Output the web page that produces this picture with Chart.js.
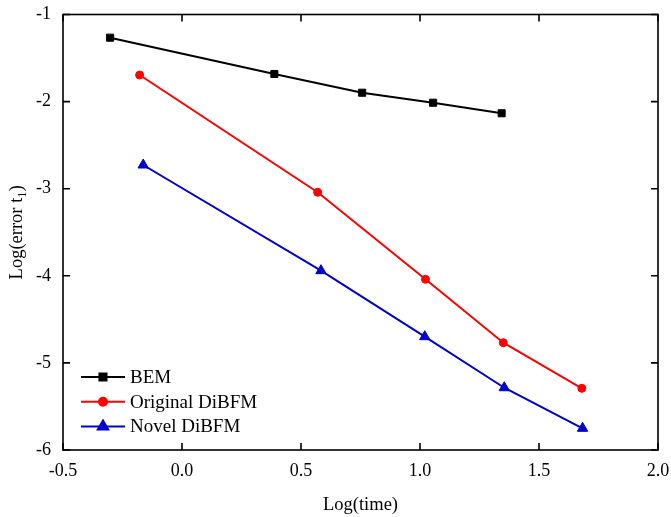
<!DOCTYPE html>
<html>
<head>
<meta charset="utf-8">
<script src="https://cdn.jsdelivr.net/npm/chart.js@4.4.1/dist/chart.umd.min.js"></script>
<style>
html,body{margin:0;padding:0;background:#fff;}
#wrap{width:671px;height:517px;}
</style>
</head>
<body>
<div id="wrap"><canvas id="c" width="671" height="517"></canvas></div>
<script>
const seriesNames = ['BEM', 'Original DiBFM', 'Novel DiBFM'];
const bemX = [-0.302, 0.388, 0.757, 1.055, 1.343];
const bemY = [-1.266, -1.683, -1.898, -2.013, -2.134];
const origX = [-0.178, 0.570, 1.023, 1.350, 1.680];
const origY = [-1.695, -3.041, -4.040, -4.768, -5.292];
const novelX = [-0.163, 0.584, 1.020, 1.354, 1.683];
const novelY = [-2.728, -3.941, -4.699, -5.285, -5.751];
const xTicks = [-0.5, 0.0, 0.5, 1.0, 1.5, 2.0];
const yTicks = [-6, -5, -4, -3, -2, -1];
const xTitle = 'Log(time)';
const yTitle = 'Log(error t\u2081)';

const pts = (xs, ys) => xs.map((x, i) => ({x: x, y: ys[i]}));
const FONT = "'Liberation Serif', 'Times New Roman', serif";

const frameAndTicks = {
  id: 'frameAndTicks',
  afterDraw(chart) {
    const ctx = chart.ctx, a = chart.chartArea;
    const xs = chart.scales.x, ys = chart.scales.y;
    const L = 7;
    ctx.save();
    ctx.strokeStyle = '#000';
    ctx.lineWidth = 1.6;
    ctx.strokeRect(a.left, a.top, a.right - a.left, a.bottom - a.top);
    ctx.beginPath();
    xTicks.forEach(v => {
      const px = xs.getPixelForValue(v);
      ctx.moveTo(px, a.bottom); ctx.lineTo(px, a.bottom - L);
      ctx.moveTo(px, a.top); ctx.lineTo(px, a.top + L);
    });
    yTicks.forEach(v => {
      const py = ys.getPixelForValue(v);
      ctx.moveTo(a.left, py); ctx.lineTo(a.left + L, py);
      ctx.moveTo(a.right, py); ctx.lineTo(a.right - L, py);
    });
    ctx.stroke();
    // legend
    const ds = chart.data.datasets;
    ds.forEach((d, i) => {
      const y = a.bottom - 73 + i * 24.7;
      const x0 = a.left + 18, x1 = a.left + 62;
      ctx.beginPath();
      ctx.strokeStyle = d.borderColor;
      ctx.lineWidth = 2;
      ctx.moveTo(x0, y); ctx.lineTo(x1, y);
      ctx.stroke();
      ctx.fillStyle = d.backgroundColor;
      ctx.strokeStyle = d.borderColor;
      Chart.helpers.drawPoint(ctx, {pointStyle: d.pointStyle, radius: d.pointRadius, rotation: 0, borderWidth: 1}, (x0 + x1) / 2, y);
      ctx.fillStyle = '#000';
      ctx.font = '19px ' + FONT;
      ctx.textAlign = 'left';
      ctx.textBaseline = 'middle';
      ctx.fillText(d.label, a.left + 67, y + 1);
    });
    ctx.restore();
  }
};

new Chart(document.getElementById('c'), {
  type: 'line',
  data: {
    datasets: [
      {label: seriesNames[0], data: pts(bemX, bemY), borderColor: '#000000', backgroundColor: '#000000',
       pointStyle: 'rect', pointRadius: 5, borderWidth: 2, pointBorderWidth: 1},
      {label: seriesNames[1], data: pts(origX, origY), borderColor: '#ff0000', backgroundColor: '#ff0000',
       pointStyle: 'circle', pointRadius: 4, borderWidth: 2, pointBorderWidth: 1},
      {label: seriesNames[2], data: pts(novelX, novelY), borderColor: '#0000cc', backgroundColor: '#0000cc',
       pointStyle: 'triangle', pointRadius: 6, borderWidth: 2, pointBorderWidth: 1}
    ]
  },
  options: {
    responsive: false,
    animation: false,
    layout: {padding: {top: 14.5, right: 13, left: 0, bottom: 0}},
    plugins: {legend: {display: false}, tooltip: {enabled: false}},
    scales: {
      x: {
        type: 'linear', min: -0.5, max: 2.0,
        afterBuildTicks: s => { s.ticks = xTicks.map(v => ({value: v})); },
        afterFit: s => { s.height = 67; s.paddingLeft = 0; s.paddingRight = 0; },
        grid: {display: false, drawTicks: false},
        border: {display: false},
        ticks: {color: '#000', font: {family: FONT, size: 18}, padding: 10,
                callback: v => Number(v).toFixed(1)},
        title: {display: true, text: xTitle, color: '#000', font: {family: FONT, size: 18.5},
                padding: {top: 4, bottom: 1}}
      },
      y: {
        type: 'linear', min: -6, max: -1,
        afterBuildTicks: s => { s.ticks = yTicks.map(v => ({value: v})); },
        afterFit: s => { s.width = 63; s.paddingTop = 0; s.paddingBottom = 0; },
        grid: {display: false, drawTicks: false},
        border: {display: false},
        ticks: {color: '#000', font: {family: FONT, size: 18}, padding: 12,
                callback: v => String(v)},
        title: {display: true, text: yTitle, color: '#000', font: {family: FONT, size: 18.5},
                padding: {top: 6, bottom: 2}}
      }
    }
  },
  plugins: [frameAndTicks]
});
</script>
</body>
</html>
